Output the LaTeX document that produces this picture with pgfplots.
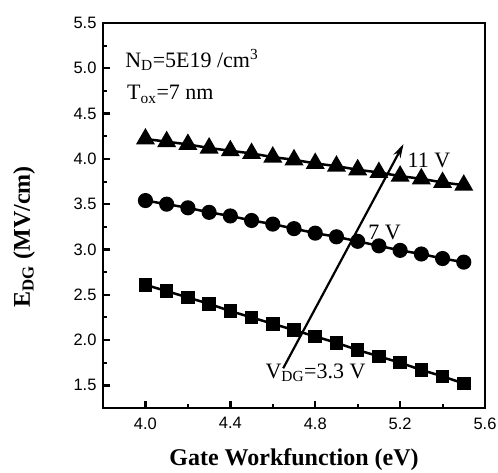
\documentclass[border=0pt]{standalone}
\usepackage{fontspec}
\setmainfont{Liberation Serif}
\newfontfamily\arialf{Liberation Sans}
\usepackage{pgfplots}
\pgfplotsset{compat=1.18}
\usetikzlibrary{arrows.meta}
\begin{document}
\begin{tikzpicture}
\begin{axis}[
  name=ax,
  scale only axis,
  width=382pt, height=385pt,
  xmin=3.8, xmax=5.6, ymin=1.25, ymax=5.5,
  xtick={4.0,4.4,4.8,5.2,5.6},
  ytick={1.5,2.0,2.5,3.0,3.5,4.0,4.5,5.0,5.5},
  minor x tick num=1, minor y tick num=1,
  xtick pos=bottom, ytick pos=left,
  tick align=inside,
  major tick length=7pt, minor tick length=4pt,
  major tick style={black, line width=2.4pt},
  minor tick style={black, line width=2pt},
  axis line style={line width=2.7pt},
  /pgf/number format/.cd, fixed, fixed zerofill, precision=1, assume math mode=true,
  /pgfplots/.cd,
  tick label style={font=\arialf\fontsize{16.5}{16.5}\selectfont},
  xticklabel style={anchor=north, yshift=-6pt},
  yticklabel style={anchor=east, xshift=-3pt},
  xlabel={\textbf{Gate Workfunction (eV)}},
  ylabel={\textbf{E\textsubscript{DG} (MV/cm)}},
  label style={font=\fontsize{24}{24}\selectfont},
  xlabel style={at={(axis description cs:0.5,-0.1506)}, anchor=base},
  ylabel style={at={(axis description cs:-0.2068,0.445)}, anchor=center},
]
\addplot[black, line width=2.5pt, mark=triangle*, mark size=8.5pt, mark options={solid}] coordinates {
(4.0,4.22)(4.1,4.19)(4.2,4.16)(4.3,4.12)(4.4,4.09)(4.5,4.06)(4.6,4.02)(4.7,3.99)
(4.8,3.95)(4.9,3.92)(5.0,3.88)(5.1,3.85)(5.2,3.81)(5.3,3.78)(5.4,3.74)(5.5,3.71)};
\addplot[black, line width=2.5pt, mark=*, mark size=6.3pt] coordinates {
(4.0,3.54)(4.1,3.50)(4.2,3.46)(4.3,3.41)(4.4,3.37)(4.5,3.32)(4.6,3.28)(4.7,3.23)
(4.8,3.18)(4.9,3.14)(5.0,3.09)(5.1,3.04)(5.2,2.99)(5.3,2.95)(5.4,2.90)(5.5,2.86)};
\addplot[black, line width=2.5pt, mark=square*, mark size=5.5pt] coordinates {
(4.0,2.61)(4.1,2.54)(4.2,2.47)(4.3,2.40)(4.4,2.32)(4.5,2.25)(4.6,2.18)(4.7,2.11)
(4.8,2.04)(4.9,1.97)(5.0,1.89)(5.1,1.82)(5.2,1.75)(5.3,1.67)(5.4,1.60)(5.5,1.52)};
\draw[line width=2.2pt, -{Stealth[length=14pt,width=8pt]}] (axis cs:4.649,1.688) -- (axis cs:5.216,4.163);
\node[anchor=base west, inner sep=0pt, font=\fontsize{22}{22}\selectfont] at (axis cs:3.904,5.01) {N\textsubscript{D}=5E19 /cm\textsuperscript{3}};
\node[anchor=base west, inner sep=0pt, font=\fontsize{22}{22}\selectfont] at (axis cs:3.913,4.65) {T\textsubscript{ox}=7 nm};
\node[anchor=base west, inner sep=0pt, font=\fontsize{22}{22}\selectfont] at (axis cs:5.235,3.91) {11 V};
\node[anchor=base west, inner sep=0pt, font=\fontsize{22}{22}\selectfont] at (axis cs:5.05,3.11) {7 V};
\node[anchor=base west, inner sep=0pt, font=\fontsize{22}{22}\selectfont] at (axis cs:4.565,1.58) {V\textsubscript{DG}=3.3 V};
\end{axis}
\draw[line width=2.7pt, line join=miter] (ax.south west) rectangle (ax.north east);
\pgfresetboundingbox
\path ([xshift=-103pt,yshift=-64pt]ax.south west) rectangle ([xshift=13pt,yshift=23pt]ax.north east);
\end{tikzpicture}
\end{document}
